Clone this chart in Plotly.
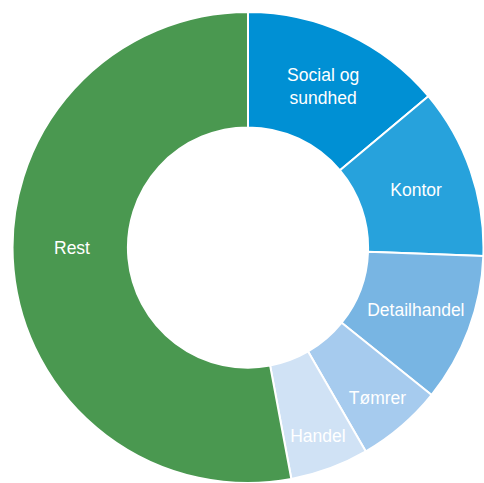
import plotly.graph_objects as go

categories = ["Social og<br>sundhed", "Kontor", "Detailhandel", "Tømrer", "Handel", "Rest"]
shares = [13.9, 11.7, 10.2, 5.9, 5.4, 53.0]
colors = ["#0090d4", "#27a2dc", "#78b5e3", "#a6cbee", "#d0e2f5", "#4a9850"]

# Rest label is placed as an annotation (Excel-like centred placement)
slice_text = [c if c != "Rest" else "" for c in categories]

font = dict(family="Liberation Sans, Arial, sans-serif", size=17.5, color="white")

fig = go.Figure(go.Pie(
    labels=categories,
    values=shares,
    text=slice_text,
    sort=False,
    direction="clockwise",
    rotation=0,
    hole=0.51,
    marker=dict(colors=colors, line=dict(color="white", width=2)),
    textinfo="text",
    textposition="inside",
    insidetextorientation="horizontal",
    textfont=font,
    domain=dict(x=[0.0248, 1.0], y=[0.0, 0.975]),
    showlegend=False,
))

fig.add_annotation(
    text="Rest", x=72 / 484, y=1 - 248 / 483, xref="paper", yref="paper",
    showarrow=False, font=font, xanchor="center", yanchor="middle",
)

fig.update_layout(
    width=484, height=483,
    margin=dict(l=0, r=0, t=0, b=0),
    paper_bgcolor="white",
    plot_bgcolor="white",
    uniformtext=dict(minsize=17.5, mode="show"),
)

fig.write_html("out.html", config={"displayModeBar": False},
               post_script="document.body.style.margin='0px';")
